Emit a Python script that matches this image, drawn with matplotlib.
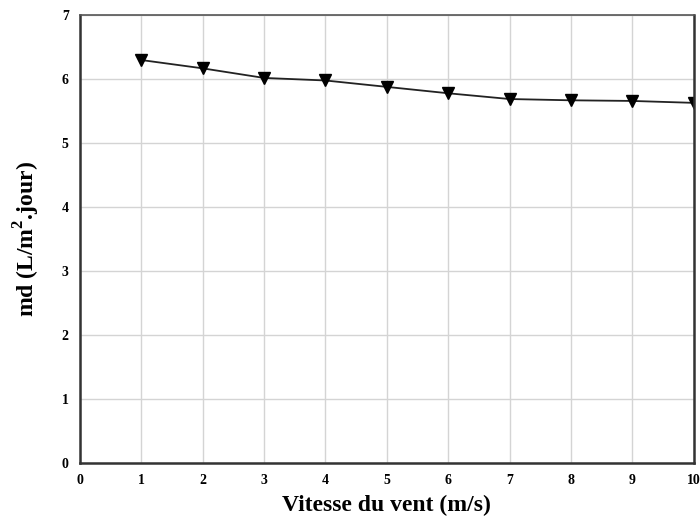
import matplotlib
matplotlib.use("Agg")
import matplotlib.pyplot as plt

# wind speed (m/s) and distillate yield md (L/m2.jour)
vitesse = [1, 2, 3, 4, 5, 6, 7, 8, 9, 10]
md = [6.30, 6.17, 6.02, 5.98, 5.88, 5.78, 5.69, 5.67, 5.66, 5.63]

plt.rcParams["font.family"] = ["Liberation Serif", "DejaVu Serif"]
plt.rcParams["font.weight"] = "bold"
plt.rcParams["mathtext.fontset"] = "custom"
plt.rcParams["mathtext.rm"] = "Liberation Serif:bold"
plt.rcParams["mathtext.bf"] = "Liberation Serif:bold"

fig = plt.figure(figsize=(7, 5.26), dpi=100)
ax = fig.add_axes([0.114, 0.12, 0.877, 0.851])

ax.plot(vitesse, md, color="#222222", linewidth=1.3, marker="v",
        markersize=8, markerfacecolor="black", markeredgecolor="black")

ax.set_xlim(0, 10)
ax.set_ylim(0, 7)
ax.set_xticks(range(0, 11))
ax.set_yticks(range(0, 8))
ax.grid(True, color="#d4d4d4", linewidth=1)
ax.set_axisbelow(True)
ax.tick_params(length=0, labelsize=10, pad=8)
for lbl in ax.get_xticklabels() + ax.get_yticklabels():
    lbl.set_fontweight("bold")

for side in ["left", "bottom", "right"]:
    ax.spines[side].set_linewidth(1.8)
    ax.spines[side].set_color("#333333")
ax.spines["top"].set_linewidth(1.2)
ax.spines["top"].set_color("#555555")

ax.set_xlabel("Vitesse du vent (m/s)", fontsize=17, fontweight="bold", labelpad=6)
ax.set_ylabel("md (L/m$^{\\mathrm{2}}$.jour)", fontsize=17, fontweight="bold", labelpad=14)

fig.savefig("out.png", dpi=100)
